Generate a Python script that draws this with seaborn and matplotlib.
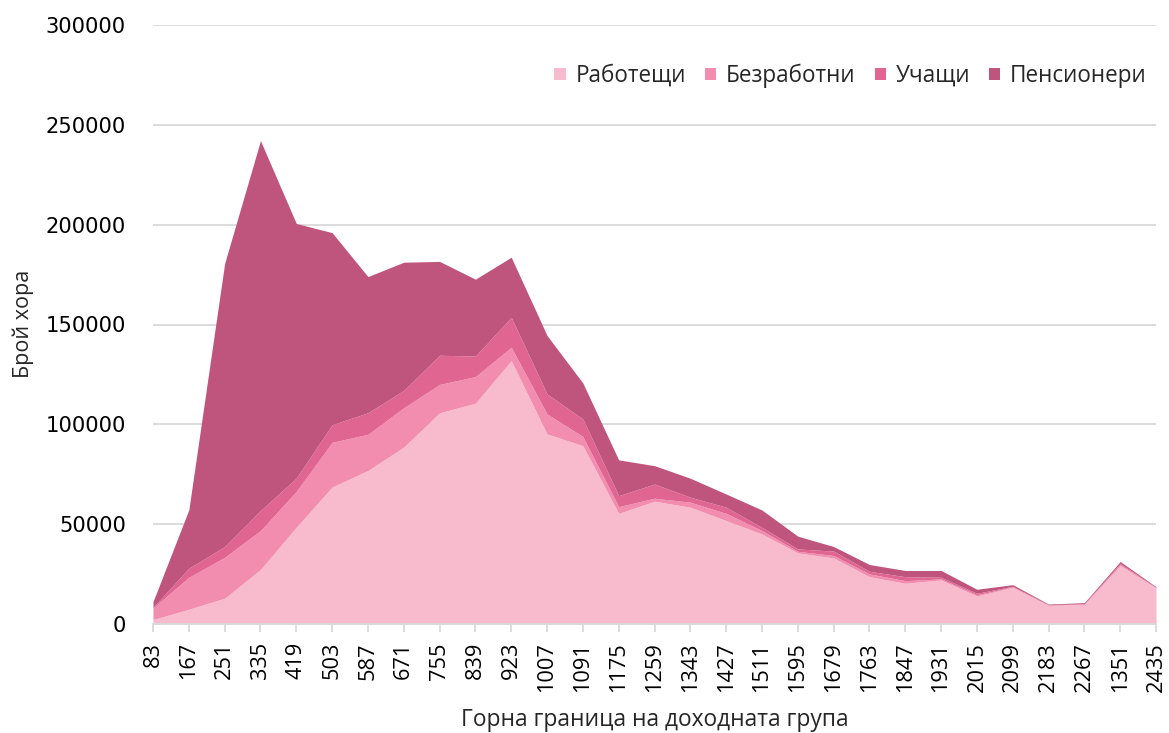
import numpy as np
import pandas as pd
import matplotlib
matplotlib.use("Agg")
import matplotlib.pyplot as plt
import seaborn as sns

categories = ["83", "167", "251", "335", "419", "503", "587", "671", "755", "839",
              "923", "1007", "1091", "1175", "1259", "1343", "1427", "1511", "1595",
              "1679", "1763", "1847", "1931", "2015", "2099", "2183", "2267", "1351", "2435"]

raboteshti = [2200, 7400, 12900, 27300, 48500, 68600, 76900, 88600, 105800, 110600,
              131900, 95200, 89300, 55400, 61500, 58500, 51800, 45100, 35600, 33100,
              23700, 20400, 22100, 14000, 18400, 9300, 9900, 29300, 18100]
bezrabotni = [5800, 16000, 20500, 19500, 17900, 22400, 18100, 19700, 14200, 13300,
              6700, 10000, 4600, 3400, 1500, 2500, 3600, 1700, 800, 1200,
              1400, 1300, 500, 700, 200, 200, 100, 500, 100]
uchashti = [400, 4500, 5400, 10000, 6700, 8800, 10800, 8700, 14600, 10300,
            15000, 10000, 8800, 5500, 7100, 2500, 3100, 1600, 1200, 2200,
            1300, 2000, 800, 700, 300, 200, 200, 600, 200]
pensioneri = [2800, 29300, 141800, 185300, 127500, 96200, 68200, 64200, 47000, 38500,
              30100, 29300, 18000, 17900, 9200, 9500, 6600, 8700, 6400, 2300,
              3400, 3100, 3400, 2000, 800, 300, 500, 900, 300]

series_names = ["Работещи", "Безработни", "Учащи", "Пенсионери"]
colors = ["#F7BBCD", "#F28DAF", "#E06591", "#BF557C"]

df = pd.DataFrame({"cat": categories, series_names[0]: raboteshti,
                   series_names[1]: bezrabotni, series_names[2]: uchashti,
                   series_names[3]: pensioneri})

sns.set_theme(style="white")
plt.rcParams["font.family"] = ["Open Sans", "DejaVu Sans"]

W, H = 1169, 733
fig = plt.figure(figsize=(W / 100, H / 100), dpi=100)
ax = fig.add_axes([153 / W, 1 - 624 / H, (1156 - 153) / W, (624 - 25) / H])

x = np.arange(len(df))
ax.stackplot(x, [df[n].values for n in series_names], colors=colors,
             labels=series_names, linewidth=0)

ax.set_xlim(0, len(df) - 1)
ax.set_ylim(0, 300000)
ax.set_yticks(np.arange(0, 300001, 50000))
ylabels = ax.set_yticklabels([str(v) for v in range(0, 300001, 50000)],
                             fontsize=15.5, family="DejaVu Sans", color="#000000")
ax.set_xticks(x)
xlabels = ax.set_xticklabels(df["cat"], rotation=90, fontsize=15, color="#000000")
ax.yaxis.grid(True, color="#D9D9D9", linewidth=1.3)
ax.set_axisbelow(True)
for s in ["top", "right", "left"]:
    ax.spines[s].set_visible(False)
ax.spines["bottom"].set_color("#D9D9D9")
ax.spines["bottom"].set_linewidth(1.3)
ax.tick_params(axis="x", bottom=True, length=5.5, width=1.3, color="#D9D9D9", pad=7.5)
ax.tick_params(axis="y", left=False, length=0, pad=19.4)

xl = ax.set_xlabel("Горна граница на доходната група", fontsize=16)
ax.xaxis.set_label_coords(0.5, -(708 - 624) / 599)
yl = ax.set_ylabel("Брой хора", fontsize=16, va="center")
ax.yaxis.set_label_coords((23 - 153) / 1003, (624 - 324) / 599)

leg = ax.legend(loc="upper right", bbox_to_anchor=(1.0, 0.96), ncol=4, frameon=False,
                fontsize=16, handlelength=0.5, handleheight=0.5, handletextpad=0.45,
                columnspacing=0.85, borderaxespad=0.0)

# fit font sizes to the measured reference text extents
fig.canvas.draw()
r = fig.canvas.get_renderer()

def fit(texts, target, ref, dim):
    bb = ref.get_window_extent(r)
    cur = bb.width if dim == "w" else bb.height
    fs = ref.get_fontsize() * target / cur
    for t in texts:
        t.set_fontsize(fs)
    return fs

fit(xlabels, 50, xlabels[11], "h")
fit(ylabels, 80, ylabels[-1], "w")
fit([xl], 388, xl, "w")
fit([yl], 108, yl, "h")
fit(leg.get_texts(), 111, leg.get_texts()[0], "w")

fig.canvas.draw()
# legend: last text ends at ~1147 px, vertical centre ~76 px
tb = leg.get_texts()[-1].get_window_extent(r)
dx = (1147 - tb.x1) / 1003
dy = ((H - 76) - (tb.y0 + tb.y1) / 2) / 599
leg.set_bbox_to_anchor((1.0 + dx, 0.96 + dy), transform=ax.transAxes)

fig.savefig("out.png", dpi=100)
